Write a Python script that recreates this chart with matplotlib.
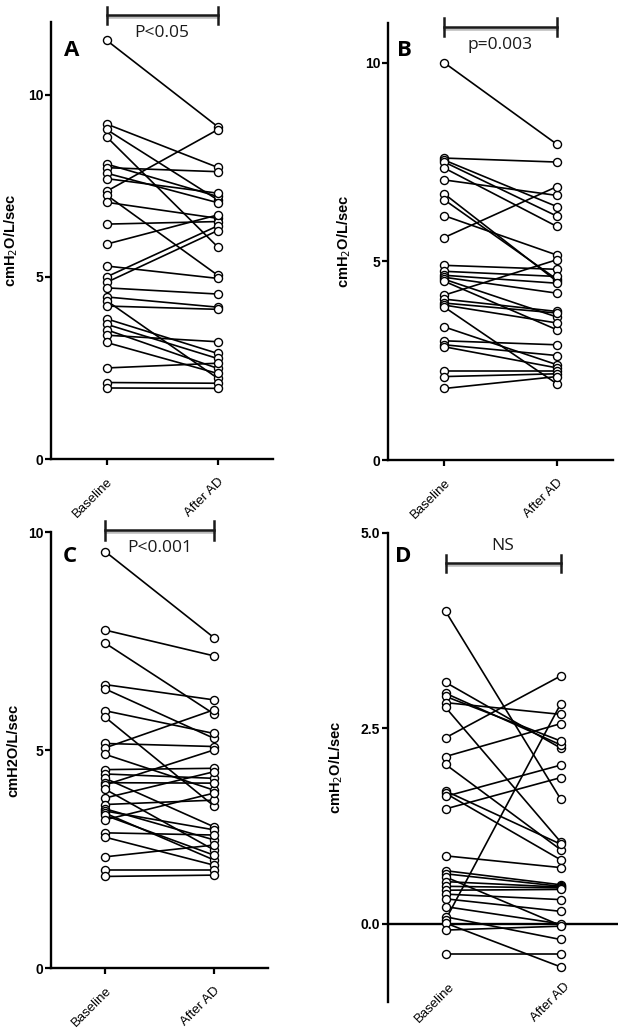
import numpy as np
import matplotlib
matplotlib.use("Agg")
import matplotlib.pyplot as plt
import matplotlib.transforms as mtransforms

plt.rcParams['font.family'] = ['Liberation Sans', 'DejaVu Sans']

groups = ['Baseline', 'After AD']

# Panel A
a_baseline = [11.5, 9.2, 9.05, 8.85, 8.1, 8.0, 7.85, 7.7, 7.35, 7.25, 7.05, 6.45, 5.9, 5.3,
              5.0, 4.85, 4.7, 4.45, 4.35, 4.2, 3.85, 3.7, 3.55, 3.4, 3.2, 2.5, 2.1, 1.95]
a_after = [9.13, 8.01, 7.12, 5.83, 7.21, 7.89, 7.04, 7.30, 9.04, 5.05, 6.61, 6.52, 6.70, 4.96,
           6.40, 6.27, 4.53, 4.17, 2.22, 4.11, 2.90, 2.76, 2.49, 3.22, 2.35, 2.63, 2.08, 1.94]

# Panel B
b_baseline = [10.0, 7.6, 7.55, 7.5, 7.35, 7.05, 6.7, 6.55, 6.15, 5.6, 4.9, 4.75, 4.65, 4.6,
              4.55, 4.5, 4.15, 4.05, 3.95, 3.9, 3.85, 3.35, 3.0, 2.9, 2.85, 2.25, 2.1, 1.8]
b_after = [7.95, 7.5, 6.38, 6.14, 5.88, 6.66, 4.5, 4.55, 5.16, 6.88, 4.8, 4.62, 4.45, 4.2,
           3.6, 3.28, 5.04, 3.74, 3.7, 3.45, 1.92, 2.4, 2.9, 2.63, 2.32, 2.25, 2.17, 2.1]

# Panel C
c_baseline = [9.55, 7.75, 7.45, 6.5, 6.4, 5.9, 5.75, 5.15, 5.05, 4.9, 4.55, 4.45, 4.35, 4.25,
              4.2, 4.1, 3.9, 3.75, 3.65, 3.6, 3.55, 3.5, 3.4, 3.1, 3.0, 2.55, 2.25, 2.1]
c_after = [7.58, 7.16, 5.83, 6.15, 5.27, 5.38, 3.72, 5.08, 5.92, 4.08, 4.58, 4.35, 3.24, 4.24,
           5.00, 2.71, 4.50, 3.85, 2.94, 3.17, 2.48, 2.59, 4.01, 3.05, 2.36, 2.82, 2.25, 2.13]

# Panel D
d_baseline = [4.0, 3.09, 2.95, 2.91, 2.83, 2.77, 2.38, 2.14, 2.04, 1.7, 1.67, 1.63, 1.47, 0.87,
              0.68, 0.64, 0.6, 0.54, 0.48, 0.43, 0.38, 0.32, 0.22, 0.09, 0.05, 0.01, -0.08, -0.38]
d_after = [1.6, 2.25, 2.29, 2.34, 2.68, 1.05, 3.17, 2.56, 0.95, 1.02, 0.82, 2.03, 1.87, 0.72,
           0.5, 0.48, -0.02, 0.47, 0.46, 0.44, 0.31, 0.16, 0.0, -0.2, 2.81, -0.55, -0.03, -0.38]

W, H = 625, 1036
fig = plt.figure(figsize=(W / 100, H / 100), dpi=100)


def px_axes(l, r, top, bottom):
    return fig.add_axes([l / W, 1 - bottom / H, (r - l) / W, (bottom - top) / H])


def draw_panel(ax, base, after, ylim, yticks, yticklabels, ylabel, label_x, zero_axis=False):
    base = np.asarray(base)
    after = np.asarray(after)
    n = len(base)
    xs = np.vstack([np.zeros(n), np.ones(n)])
    ys = np.vstack([base, after])
    ax.plot(xs, ys, color='black', lw=1.2, zorder=2, solid_capstyle='round')
    for xi, vals in ((0, base), (1, after)):
        ax.plot(np.full(n, xi), vals, linestyle='none', marker='o', ms=5.8,
                mfc='white', mec='black', mew=1.0, zorder=3)
    ax.set_xlim(-0.5, 1.5)
    ax.set_ylim(*ylim)
    ax.set_yticks(yticks)
    ax.set_yticklabels(yticklabels, fontweight='bold', fontsize=10)
    for s in ('top', 'right'):
        ax.spines[s].set_visible(False)
    ax.spines['left'].set_linewidth(1.7)
    ax.spines['bottom'].set_linewidth(1.7)
    ax.tick_params(axis='y', length=4, width=1.6, pad=1.5)
    ax.set_ylabel(ylabel, fontweight='bold', fontsize=10.5)
    ax.yaxis.set_label_coords(label_x, 0.5)
    if zero_axis:
        ax.spines['bottom'].set_visible(False)
        ax.axhline(0, color='black', lw=1.7, zorder=1)
        ax.set_xticks([])
        tr = mtransforms.blended_transform_factory(ax.transData, ax.transAxes)
        for xi, g in enumerate(groups):
            ax.text(xi + 0.03, 0.045, g, rotation=45, ha='right', va='top',
                    rotation_mode='anchor', fontsize=9.5, transform=tr)
    else:
        ax.set_xticks([0, 1])
        ax.set_xticklabels(groups, rotation=45, ha='right', rotation_mode='anchor', fontsize=9.5)
        ax.tick_params(axis='x', length=4, width=1.6, pad=8)
    ax.set_facecolor('none')


def bracket(ax, y_line, cap_top, cap_bot, text, y_text):
    tr = mtransforms.blended_transform_factory(ax.transData, fig.transFigure)
    yl = 1 - y_line / H
    ct = 1 - cap_top / H
    cb = 1 - cap_bot / H
    off = 1.5 / H
    ax.plot([0, 1], [yl - off, yl - off], color='#bbbbbb', lw=1.8, transform=tr, clip_on=False)
    ax.plot([0, 1], [yl, yl], color='#1a1a1a', lw=1.8, transform=tr, clip_on=False)
    ax.plot([0, 0], [ct, cb], color='#1a1a1a', lw=1.8, transform=tr, clip_on=False)
    ax.plot([1, 1], [ct, cb], color='#1a1a1a', lw=1.8, transform=tr, clip_on=False)
    ax.text(0.5, 1 - y_text / H, text, ha='center', va='center', fontsize=12.5,
            color='#1a1a1a', transform=tr, family=['Open Sans', 'DejaVu Sans'])


axA = px_axes(51, 273, 22, 459)
axB = px_axes(388, 613, 23, 460)
axC = px_axes(51, 268, 532, 968)
axD = px_axes(388, 618, 533, 1002)

draw_panel(axA, a_baseline, a_after, (0, 12), [0, 5, 10], ['0', '5', '10'],
           'cmH$_2$O/L/sec', -0.14)
draw_panel(axB, b_baseline, b_after, (0, 11), [0, 5, 10], ['0', '5', '10'],
           'cmH$_2$O/L/sec', -0.155)
draw_panel(axC, c_baseline, c_after, (0, 10), [0, 5, 10], ['0', '5', '10'],
           'cmH2O/L/sec', -0.143)
draw_panel(axD, d_baseline, d_after, (-1, 5), [0.0, 2.5, 5.0], ['0.0', '2.5', '5.0'],
           'cmH$_2$O/L/sec', -0.187, zero_axis=True)

bracket(axA, 15, 7, 24, 'P<0.05', 33)
bracket(axB, 27, 18, 36, 'p=0.003', 45)
bracket(axC, 530, 521, 540, 'P<0.001', 548)
bracket(axD, 563, 555, 572, 'NS', 546)

for letter, x, y in (('A', 72, 50), ('B', 404, 50), ('C', 70, 557), ('D', 403, 557)):
    fig.text(x / W, 1 - y / H, letter, ha='center', va='center', fontsize=16,
             fontweight='bold', family=['Open Sans', 'DejaVu Sans'])

fig.savefig('out.png', dpi=100)
